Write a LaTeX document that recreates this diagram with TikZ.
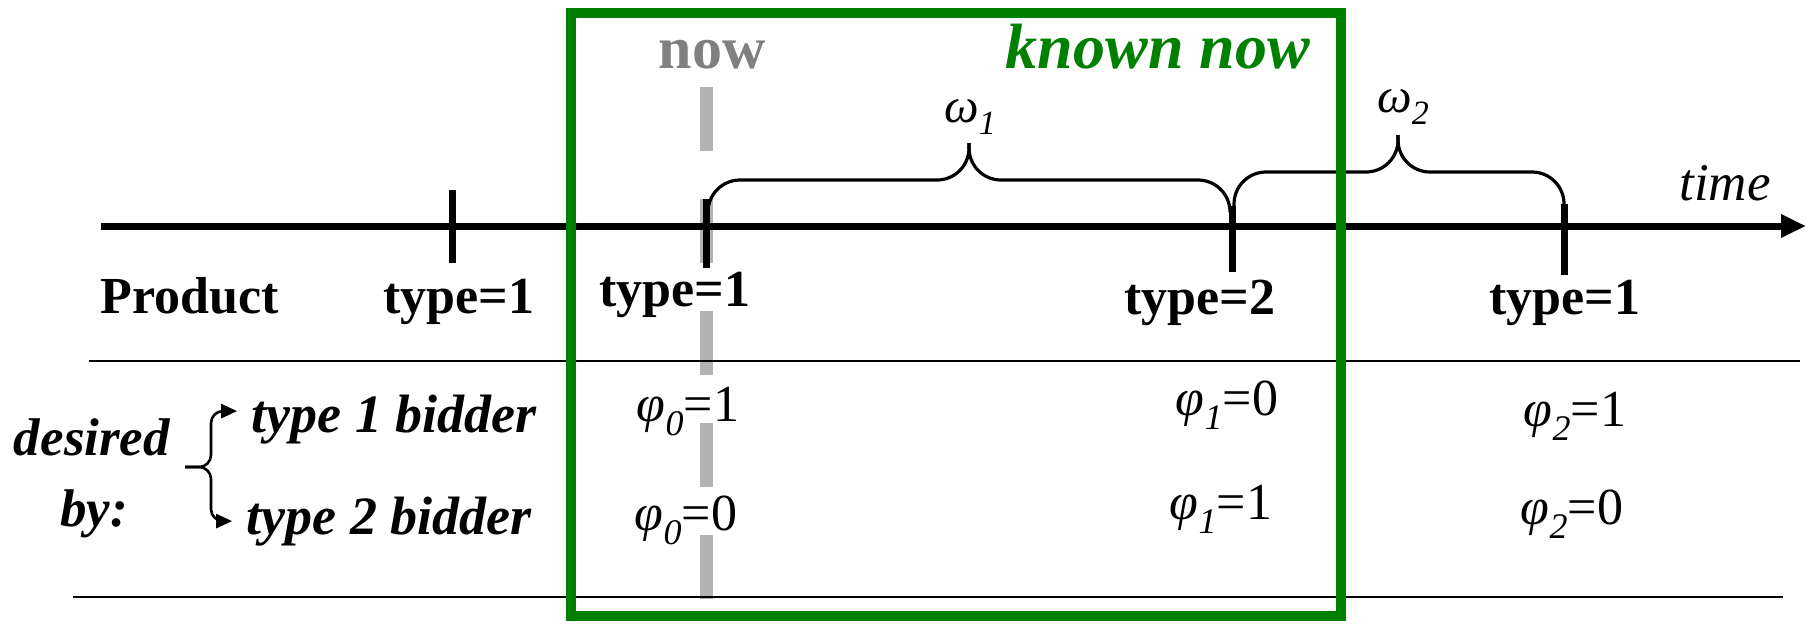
\documentclass[tikz,border=0pt]{standalone}
\usepackage{fontspec}
\setmainfont{Liberation Serif}
\usetikzlibrary{arrows.meta}
\definecolor{knowngreen}{HTML}{008000}
\definecolor{nowbar}{HTML}{B3B3B3}
\definecolor{nowink}{HTML}{808080}
\tikzset{
  axis/.style={line width=3.5pt, -{Triangle[length=12.5pt,width=11pt]}},
  tck/.style={line width=3.5pt},
  rule/.style={line width=1.2pt},
  nowline/.style={draw=nowbar, line width=6.5pt, dash pattern=on 32pt off 24pt},
  span/.style={line width=1.6pt, rounded corners=16pt},
  fork/.style={line width=1.3pt, rounded corners=6pt, -{Triangle[length=8pt,width=7pt]}},
  frame/.style={draw=knowngreen, line width=5pt},
  txt/.style={anchor=base, inner sep=0pt},
  prod/.style={txt, font=\fontsize{26}{30}\selectfont\bfseries},
  bid/.style={txt, font=\fontsize{27}{30}\selectfont\bfseries\itshape},
  dsr/.style={txt, font=\fontsize{26.5}{30}\selectfont\bfseries\itshape},
  val/.style={txt, font=\fontsize{26}{30}\selectfont\itshape},
  gap/.style={txt, font=\fontsize{24.5}{30}\selectfont\itshape},
}
\newcommand{\phiv}[2]{φ\raisebox{-7pt}{\fontsize{18}{18}\selectfont #1}\upshape=#2}
\newcommand{\omegav}[1]{ω\raisebox{-6pt}{\fontsize{17}{17}\selectfont #1}}

\begin{document}
\begin{tikzpicture}[x=0.5pt, y=-0.5pt]
  \useasboundingbox (0,0) rectangle (1807,623);
  % now marker
  \coordinate (nowtop) at (706,87);
  \coordinate (nowbot) at (706,599);
  \draw[nowline] (nowtop) -- (nowbot);
  % table rules
  \coordinate (r1a) at (89,361);  \coordinate (r1b) at (1800,361);
  \coordinate (r2a) at (73,597);  \coordinate (r2b) at (1783,597);
  \draw[rule] (r1a) -- (r1b);
  \draw[rule] (r2a) -- (r2b);
  % time axis and ticks
  \coordinate (t0) at (101,226);
  \coordinate (t9) at (1806,226);
  \draw[axis] (t0) -- (t9);
  \foreach \n/\x/\ya/\yb in {1/452/190/263, 2/706/199/268, 3/1232/206/272, 4/1564/204/275}
    \draw[tck] (\x,\ya) coordinate (k\n) -- (\x,\yb);
  \node[txt, font=\fontsize{26.5}{30}\selectfont\itshape] (time) at (1725,200) {time};
  % braces over the gaps
  \coordinate (b1l) at (708,211); \coordinate (b1r) at (1230,211);
  \coordinate (w1f) at (969,180); \coordinate (w1) at (969,143);
  \draw[span] (b1l) |- (w1f) -- (w1);
  \draw[span] (b1r) |- (w1f) -- (w1);
  \coordinate (b2l) at (1234,212); \coordinate (b2r) at (1564,205);
  \coordinate (w2f) at (1398,172); \coordinate (w2) at (1398,135);
  \draw[span] (b2l) |- (w2f) -- (w2);
  \draw[span] (b2r) |- (w2f) -- (w2);
  \node[gap] (om1) at (970,122) {\omegav{1}};
  \node[gap] (om2) at (1403,112) {\omegav{2}};
  % product row
  \node[prod] (product) at (190,313) {Product};
  \node[prod] (ty1) at (459,313) {type=1};
  \node[prod] (ty2) at (675,306) {type=1};
  \node[prod] (ty3) at (1200,314) {type=2};
  \node[prod] (ty4) at (1565,314) {type=1};
  % bidders
  \node[dsr] (desired) at (92,455) {desired};
  \node[dsr] (by) at (94,526) {by:};
  \node[bid] (bid1) at (394,432) {type 1 bidder};
  \node[bid] (bid2) at (389,534) {type 2 bidder};
  \coordinate (cusp) at (185,467);
  \coordinate (forkmid) at (211,467);
  \draw[fork] (cusp) -- (forkmid) |- ([xshift=-7pt, yshift=4pt]bid1.west);
  \draw[fork] (cusp) -- (forkmid) |- ([xshift=-7pt]bid2.west);
  % desirability values
  \node[val] (p01) at (688,421) {\phiv{0}{1}};
  \node[val] (p00) at (686,530) {\phiv{0}{0}};
  \node[val] (p10) at (1227,415) {\phiv{1}{0}};
  \node[val] (p11) at (1221,519) {\phiv{1}{1}};
  \node[val] (p21) at (1575,426) {\phiv{2}{1}};
  \node[val] (p20) at (1572,524) {\phiv{2}{0}};
  % now and known-now window
  \node[txt, font=\fontsize{30}{30}\selectfont\bfseries, text=nowink] (now) at (712,68) {now};
  \node[txt, font=\fontsize{32}{32}\selectfont\bfseries\itshape, text=knowngreen] (known) at (1158,68) {known now};
  \coordinate (kn1) at (571,13);
  \coordinate (kn2) at (1341,616);
  \draw[frame] (kn1) rectangle (kn2);
\end{tikzpicture}
\end{document}
